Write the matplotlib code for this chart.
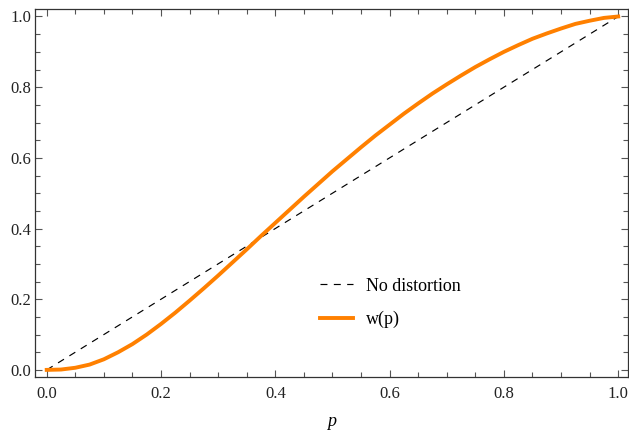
import matplotlib
matplotlib.use('Agg')
import matplotlib.pyplot as plt
from matplotlib.ticker import MultipleLocator

plt.rcParams.update({
    'font.family': ['Liberation Serif', 'DejaVu Serif'],
    'lines.scale_dashes': False,
})

# probability p and weighted probability w(p)
p = [0.0, 0.025, 0.05, 0.075, 0.1, 0.125, 0.15, 0.175, 0.2, 0.225,
     0.25, 0.275, 0.3, 0.325, 0.35, 0.375, 0.4, 0.425, 0.45, 0.475,
     0.5, 0.525, 0.55, 0.575, 0.6, 0.625, 0.65, 0.675, 0.7, 0.725,
     0.75, 0.775, 0.8, 0.825, 0.85, 0.875, 0.9, 0.925, 0.95, 0.975, 1.0]
w = [0.0, 0.001, 0.006, 0.015, 0.030, 0.050, 0.073, 0.100, 0.130, 0.162,
     0.196, 0.231, 0.267, 0.304, 0.341, 0.379, 0.416, 0.453, 0.490, 0.526,
     0.562, 0.596, 0.630, 0.663, 0.694, 0.725, 0.754, 0.782, 0.808, 0.833,
     0.857, 0.879, 0.900, 0.919, 0.937, 0.952, 0.966, 0.979, 0.988, 0.996, 1.0]
diag = [0.0, 1.0]

fig = plt.figure(figsize=(6.29, 4.32), dpi=100)
ax = fig.add_axes([0.0552, 0.1266, 0.944, 0.8524])

ax.plot(diag, diag, color='black', lw=0.85, dashes=(5, 4.6), label='No distortion')
ax.plot(p, w, color='#FF8000', lw=2.8, label='w(p)')

ax.set_xlim(-0.021, 1.018)
ax.set_ylim(-0.021, 1.021)
for a in (ax.xaxis, ax.yaxis):
    a.set_major_locator(MultipleLocator(0.2))
    a.set_minor_locator(MultipleLocator(0.05))
    a.set_major_formatter(matplotlib.ticker.FormatStrFormatter('%.1f'))
ax.tick_params(which='both', direction='in', top=True, right=True,
               color='#555555', width=0.8)
ax.tick_params(which='major', length=5)
ax.tick_params(which='minor', length=3.4)
ax.tick_params(axis='x', labelsize=12, pad=6, labelcolor='#222222')
ax.tick_params(axis='y', labelsize=12, pad=2.5, labelcolor='#222222')
for s in ax.spines.values():
    s.set_color('#333333')
    s.set_linewidth(0.9)

ax.set_xlabel('p', fontstyle='italic', fontsize=13, labelpad=8)

ax.legend(loc='center left', bbox_to_anchor=(0.4805, 0.2017), frameon=False,
          fontsize=13, handlelength=1.8, handletextpad=0.74,
          labelspacing=0.9, borderpad=0, borderaxespad=0)

fig.savefig('out.png', dpi=100)
